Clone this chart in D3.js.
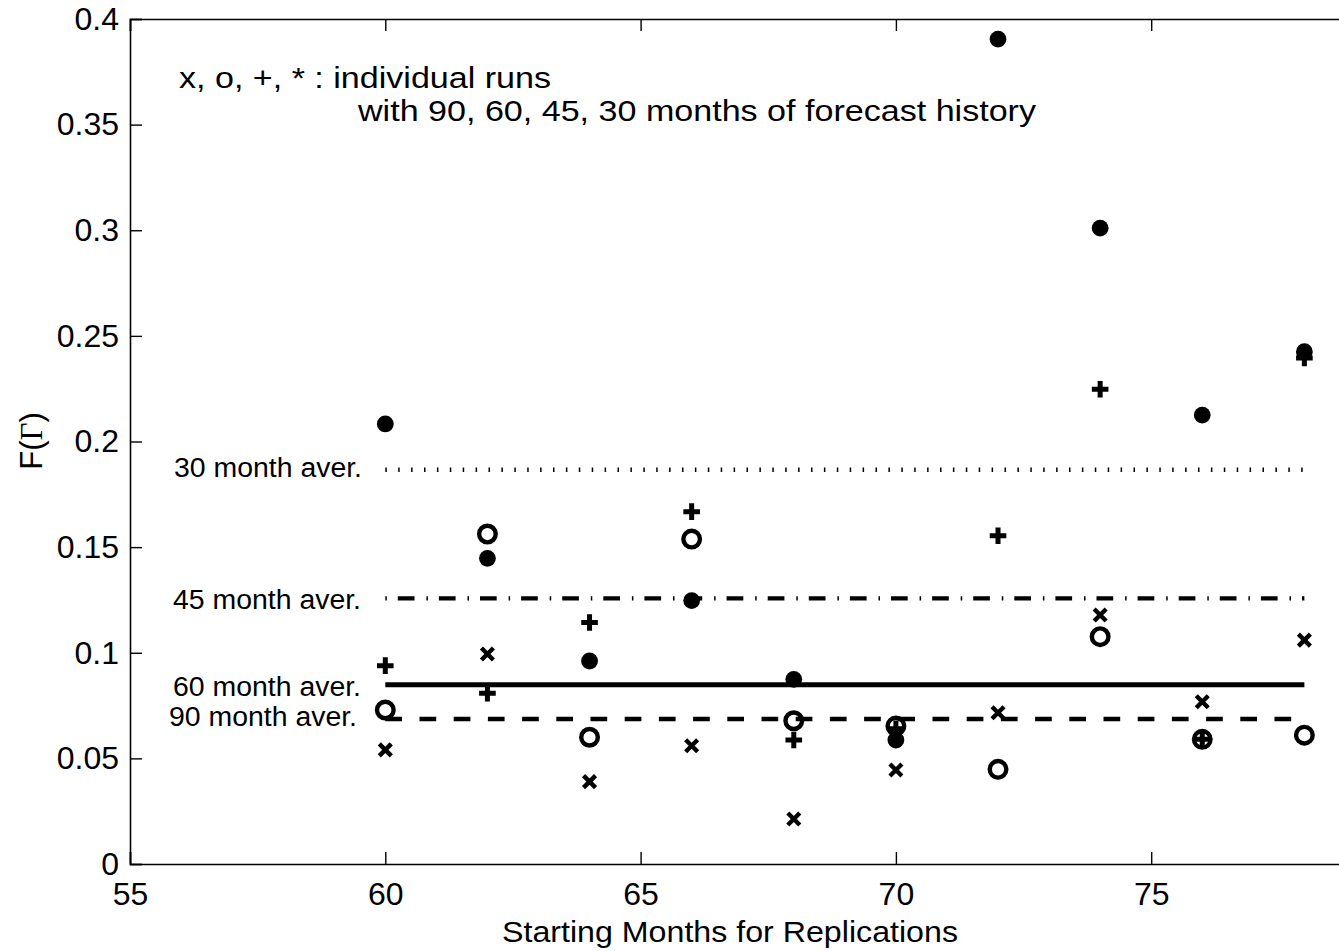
<!DOCTYPE html>
<html>
<head>
<meta charset="utf-8">
<script src="https://cdn.jsdelivr.net/npm/d3@7"></script>
<style>
  body { margin: 0; background: #fff; }
  text { font-family: "Liberation Sans", Arial, Helvetica, sans-serif; fill: #000; }
</style>
</head>
<body>
<div id="chart"></div>
<script>
// data
var startMonths = [60, 62, 64, 66, 68, 70, 72, 74, 76, 78];
var runs90 = [0.054, 0.0994, 0.039, 0.056, 0.0213, 0.0445, 0.0716, 0.1179, 0.0768, 0.106];   // x
var runs60 = [0.0729, 0.1562, 0.060, 0.1538, 0.0678, 0.0653, 0.0448, 0.1076, 0.059, 0.061];  // o
var runs45 = [0.0939, 0.0808, 0.1143, 0.1668, 0.0587, 0.064, 0.1554, 0.2247, 0.059, 0.2395]; // +
var runs30 = [0.2083, 0.1447, 0.0961, 0.1247, 0.0874, 0.0587, 0.3905, 0.301, 0.2125, 0.2425]; // *
var averLabels = ["30 month aver.", "45 month aver.", "60 month aver.", "90 month aver."];
var xTicks = [55, 60, 65, 70, 75];
var yTicks = [0, 0.05, 0.1, 0.15, 0.2, 0.25, 0.3, 0.35, 0.4];
var noteLines = ["x, o, +, * : individual runs", "with 90, 60, 45, 30 months of forecast history"];

var width = 1339, height = 951;
var margin = {top: 19, left: 130, bottom: 87};

var svg = d3.select("#chart")
  .append("svg")
  .attr("width", width)
  .attr("height", height)
  .style("display", "block");

// axes box runs past the right edge of the picture
var x = d3.scaleLinear()
  .domain([55, 80])
  .range([margin.left, 1406.5]);

var y = d3.scaleLinear()
  .domain([0, 0.4])
  .range([height - margin.bottom, margin.top]);

var xAxis = g => g
  .attr("transform", `translate(0,${y(0)})`)
  .call(d3.axisBottom(x).tickValues(xTicks).tickSize(-12).tickPadding(18).tickFormat(d3.format("d")))
  .call(g => g.selectAll("text").attr("font-size", 32));

var xAxisTop = g => g
  .attr("transform", `translate(0,${y(0.4)})`)
  .call(d3.axisTop(x).tickValues(xTicks).tickSize(-12).tickFormat(""));

var yAxis = g => g
  .attr("transform", `translate(${x(55)},0)`)
  .call(d3.axisLeft(y).tickValues(yTicks).tickSize(-12).tickPadding(11).tickFormat(d => d3.format("~g")(d)))
  .call(g => g.selectAll("text").attr("font-size", 32));

[xAxis, xAxisTop, yAxis].forEach(a => {
  svg.append("g")
    .call(a)
    .call(g => g.selectAll(".domain").attr("stroke", "#000").attr("stroke-width", 1.6))
    .call(g => g.selectAll(".tick line").attr("stroke", "#000").attr("stroke-width", 1.4))
    .call(g => g.selectAll("text").attr("font-family", null).attr("fill", "#000"));
});

// average lines
var avgs = [
  {label: averLabels[0], value: d3.mean(runs30), dash: "1.5 11.4", w: 4.6, dx: 0, dy: 7},
  {label: averLabels[1], value: d3.mean(runs45), dash: "1.5 11 16.7 11.9", w: 4.2, dx: -1, dy: 11},
  {label: averLabels[2], value: d3.mean(runs60), dash: null, w: 5, dx: -1, dy: 11},
  {label: averLabels[3], value: d3.mean(runs90), dash: "16.7 17.5", w: 4.5, dx: -5, dy: 7}
];

avgs.forEach(a => {
  svg.append("line")
    .attr("x1", x(startMonths[0]))
    .attr("x2", x(startMonths[startMonths.length - 1]))
    .attr("y1", y(a.value))
    .attr("y2", y(a.value))
    .attr("stroke", "#000")
    .attr("stroke-width", a.w)
    .attr("stroke-dasharray", a.dash);

  svg.append("text")
    .attr("x", 362 + a.dx)
    .attr("y", y(a.value) + a.dy)
    .attr("font-size", 27)
    .attr("text-anchor", "end")
    .attr("textLength", 188)
    .attr("lengthAdjust", "spacingAndGlyphs")
    .text(a.label);
});

// markers
function pts(vals) {
  return startMonths.map((m, i) => ({m: m, v: vals[i]}));
}

svg.append("g").selectAll("path")
  .data(pts(runs90))
  .join("path")
  .attr("transform", d => `translate(${x(d.m)},${y(d.v)})`)
  .attr("d", "M-6,-6L6,6M6,-6L-6,6")
  .attr("stroke", "#000")
  .attr("stroke-width", 4.4)
  .attr("fill", "none");

svg.append("g").selectAll("circle")
  .data(pts(runs60))
  .join("circle")
  .attr("cx", d => x(d.m))
  .attr("cy", d => y(d.v))
  .attr("r", 8.3)
  .attr("stroke", "#000")
  .attr("stroke-width", 4.4)
  .attr("fill", "none");

svg.append("g").selectAll("path")
  .data(pts(runs45))
  .join("path")
  .attr("transform", d => `translate(${x(d.m)},${y(d.v)})`)
  .attr("d", "M-8.3,0H8.3M0,-8.3V8.3")
  .attr("stroke", "#000")
  .attr("stroke-width", 5)
  .attr("fill", "none");

svg.append("g").selectAll("circle")
  .data(pts(runs30))
  .join("circle")
  .attr("cx", d => x(d.m))
  .attr("cy", d => y(d.v))
  .attr("r", 8.4)
  .attr("fill", "#000");

// note
svg.append("text")
  .attr("x", 179).attr("y", 88)
  .attr("font-size", 30)
  .attr("textLength", 372)
  .attr("lengthAdjust", "spacingAndGlyphs")
  .text(noteLines[0]);

svg.append("text")
  .attr("x", 358).attr("y", 121)
  .attr("font-size", 30)
  .attr("textLength", 678)
  .attr("lengthAdjust", "spacingAndGlyphs")
  .text(noteLines[1]);

// axis labels
svg.append("text")
  .attr("x", 730).attr("y", 942)
  .attr("font-size", 30)
  .attr("text-anchor", "middle")
  .attr("textLength", 456)
  .attr("lengthAdjust", "spacingAndGlyphs")
  .text("Starting Months for Replications");

var yl = svg.append("text")
  .attr("transform", "translate(42,441) rotate(-90)")
  .attr("font-size", 31)
  .attr("text-anchor", "middle");
yl.append("tspan").text("F(");
yl.append("tspan").attr("font-family", "'Liberation Serif', 'Times New Roman', serif").text("Γ");
yl.append("tspan").text(")");
</script>
</body>
</html>
